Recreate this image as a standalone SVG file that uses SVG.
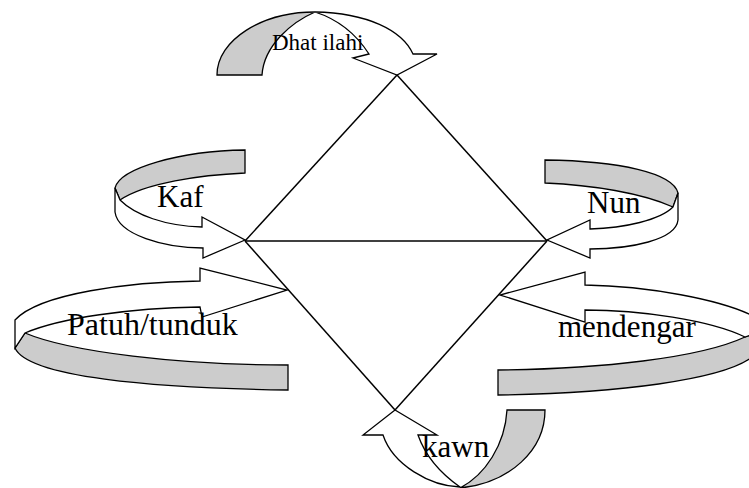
<svg xmlns="http://www.w3.org/2000/svg" width="749" height="488" viewBox="0 0 749 488">
  <style>
    .back { fill: #cccccc; stroke: #000; stroke-width: 1.3; stroke-linejoin: miter; }
    .front { fill: #ffffff; stroke: #000; stroke-width: 1.3; stroke-linejoin: miter; }
    .edge { stroke: #000; stroke-width: 1.5; fill: none; }
    .lbl { font-family: "Liberation Serif", "Times New Roman", serif; font-size: 31px; fill: #000; }
    .small { font-size: 23px; }
  </style>
  <rect width="749" height="488" fill="#ffffff"/>

  <!-- top curved arrow -->
  <g id="dhat-ilahi">
    <path class="back" d="M217,75 C217,40 262,12 315,12 C292,22 264,45 262,75 Z"/>
    <path class="front" d="M315,12 C367,13 402,30 413,54 L437,54 L397,75 L353,58 L369,54 C358,37 340,20 315,12 Z"/>
    <text class="lbl small" x="272" y="50">Dhat ilahi</text>
  </g>

  <!-- upper left curved arrow -->
  <g id="kaf">
    <path class="back" d="M245,150 L245,173 C200,175 145,183 120,200 L115,188 C120,168 180,151 245,150 Z"/>
    <path class="front" d="M115,188 L115,212 C118,235 165,248 203,248 L203,258 L245,240 L202,217 L202,227 C165,226 135,215 120,200 Z"/>
    <text class="lbl" x="157" y="207">Kaf</text>
  </g>

  <!-- upper right curved arrow -->
  <g id="nun">
    <path class="back" d="M545,160 L545,183 C592,185 642,193 673,207 L678,193 C673,173 620,161 545,160 Z"/>
    <path class="front" d="M678,193 L678,220 C676,240 630,249 590,249 L590,258 L547,240 L590,220 L590,229 C625,228 660,220 673,207 Z"/>
    <text class="lbl" x="587" y="213">Nun</text>
  </g>

  <!-- lower left curved arrow -->
  <g id="patuh-tunduk">
    <path class="back" d="M15,348 L25,333 C70,352 180,365 288,365 L288,390 C150,388 28,377 15,348 Z"/>
    <path class="front" d="M15,320 L15,348 L25,333 C60,318 130,308 200,307 L202,317 L287,290 L200,268 L200,281 C130,282 40,293 15,320 Z"/>
    <text class="lbl" x="67" y="335" style="font-size:32px">Patuh/tunduk</text>
  </g>

  <!-- lower right curved arrow -->
  <g id="mendengar">
    <path class="back" d="M498,370 C600,369 700,358 745,337 L751,335 L751,358 C720,380 620,393 498,395 Z"/>
    <path class="front" d="M585,285 L585,272 L500,295 L585,322 L585,310 C640,310 710,320 745,337 L751,335 L751,315 C720,300 650,286 585,285 Z"/>
    <text class="lbl" x="558" y="337">mendengar</text>
  </g>

  <!-- bottom curved arrow -->
  <g id="kawn">
    <path class="back" d="M507,410 L545,410 C545,450 510,483 460,488 C485,475 505,445 507,410 Z"/>
    <path class="front" d="M383,435 L363,435 L395,410 L437,435 L418,435 C425,455 440,473 460,487 C430,486 393,465 383,435 Z"/>
    <text class="lbl" x="422" y="457">kawn</text>
  </g>

  <!-- diamond edges -->
  <g id="connectors">
    <line class="edge" x1="245" y1="241" x2="397" y2="75"/>
    <line class="edge" x1="397" y1="75" x2="547" y2="241"/>
    <line class="edge" x1="245" y1="241" x2="547" y2="241"/>
    <line class="edge" x1="245" y1="241" x2="395" y2="410"/>
    <line class="edge" x1="547" y1="241" x2="395" y2="410"/>
  </g>
</svg>
